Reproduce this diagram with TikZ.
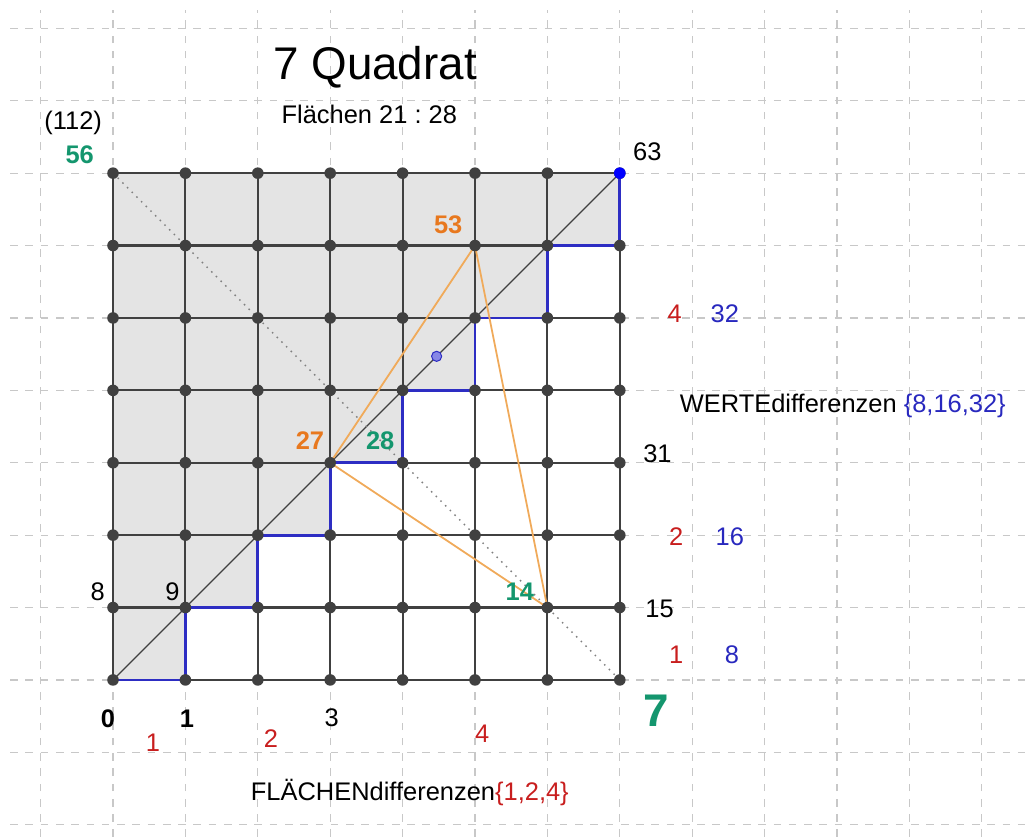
\documentclass[tikz,border=0pt]{standalone}
\usepackage{fontspec}
\setmainfont{Liberation Sans}
\definecolor{gridgrey}{RGB}{64,64,64}
\definecolor{bggrey}{RGB}{200,200,200}
\definecolor{shadegrey}{RGB}{228,228,228}
\definecolor{stairblue}{RGB}{45,45,195}
\definecolor{txtblue}{RGB}{40,40,190}
\definecolor{ggred}{RGB}{200,30,30}
\definecolor{gggreen}{RGB}{20,150,110}
\definecolor{ggorange}{RGB}{232,120,30}
\definecolor{triorange}{RGB}{240,170,90}
\definecolor{midpurple}{RGB}{135,135,230}
\begin{document}
\begin{tikzpicture}[
  gpt/.style={circle, fill=gridgrey, inner sep=0pt, minimum size=0.16cm},
  num/.style={anchor=base, inner sep=0pt, font=\fontsize{10}{12}\selectfont},
  bnum/.style={num, font=\fontsize{10}{12}\selectfont\bfseries},
  stair/.style={stairblue, line width=1.1pt},
  tri/.style={triorange, line width=0.7pt, line join=round}
]
\useasboundingbox (-1.561,-2.168) rectangle (12.680,9.392);
\draw[bggrey, dashed, line width=0.5pt] (-1.42,-2.17) grid (12.68,9.26);
\foreach \x in {0,...,7}
  \foreach \y in {0,...,7}
    \coordinate (c\x\y) at (\x,\y);
% shaded part above the staircase
\fill[shadegrey] (c00) -- (c10) -- (c11) -- (c21) -- (c22) -- (c32) -- (c33) -- (c43) -- (c44)
  -- (c54) -- (c55) -- (c65) -- (c66) -- (c76) -- (c77) -- (c07) -- cycle;
\draw[gridgrey, line width=0.85pt] (c00) grid (c77);
\draw[gridgrey, line width=0.5pt] (c00) -- (c77);
\draw[gray, dotted, line width=0.6pt] (c07) -- (c70);
\foreach \i [evaluate=\i as \j using int(\i+1)] in {0,...,6}
  \draw[stair] (c\i\i) -- (c\j\i) -- (c\j\j);
\draw[tri] (c33) -- (c56) -- (c61) -- cycle;
\foreach \x in {0,...,7}
  \foreach \y in {0,...,7}
    \node[gpt] (p\x\y) at (c\x\y) {};
\node[gpt, fill=blue] (top) at (c77) {};
\node[circle, fill=midpurple, draw=stairblue, line width=0.4pt, inner sep=0pt, minimum size=0.14cm] (mid) at (4.47,4.47) {};
% titles
\node[anchor=base, inner sep=0pt, font=\fontsize{18}{21}\selectfont] (title) at (3.62,8.29) {7 Quadrat};
\node[num] (sub) at (3.54,7.69) {Flächen 21~:~28};
% corner values
\node[num] (n112) at (-0.55,7.60) {(112)};
\node[bnum, gggreen] (n56) at (-0.46,7.14) {56};
\node[num] (n63) at (7.38,7.18) {63};
\node[bnum, ggorange] (n53) at (4.63,6.17) {53};
\node[bnum, ggorange] (n27) at (2.72,3.18) {27};
\node[bnum, gggreen] (n28) at (3.69,3.18) {28};
\node[bnum, gggreen] (n14) at (5.62,1.10) {14};
\node[num] (n8) at (-0.21,1.10) {8};
\node[num] (n9) at (0.82,1.10) {9};
\node[num] (n31) at (7.52,3.00) {31};
\node[num] (n15) at (7.55,0.86) {15};
% bottom axis
\node[bnum] (x0) at (-0.07,-0.66) {0};
\node[bnum] (x1) at (1.02,-0.66) {1};
\node[num] (x3) at (3.02,-0.65) {3};
\node[anchor=base, inner sep=0pt, gggreen, font=\fontsize{18}{21}\selectfont\bfseries] (x7) at (7.50,-0.64) {7};
\node[num, ggred] (fd1) at (0.55,-0.99) {1};
\node[num, ggred] (fd2) at (2.18,-0.94) {2};
\node[num, ggred] (fd4) at (5.10,-0.87) {4};
\node[num] (fl) at (4.10,-1.67) {FLÄCHENdifferenzen\textcolor{ggred}{\{1,2,4\}}};
% right side
\node[num, ggred] (rd4) at (7.76,4.94) {4};
\node[num, txtblue] (wd32) at (8.45,4.94) {32};
\node[num, ggred] (rd2) at (7.78,1.86) {2};
\node[num, txtblue] (wd16) at (8.52,1.86) {16};
\node[num, ggred] (rd1) at (7.78,0.23) {1};
\node[num, txtblue] (wd8) at (8.55,0.23) {8};
\node[num] (we) at (10.08,3.69) {WERTEdifferenzen \textcolor{txtblue}{\{8,16,32\}}};
\end{tikzpicture}
\end{document}
